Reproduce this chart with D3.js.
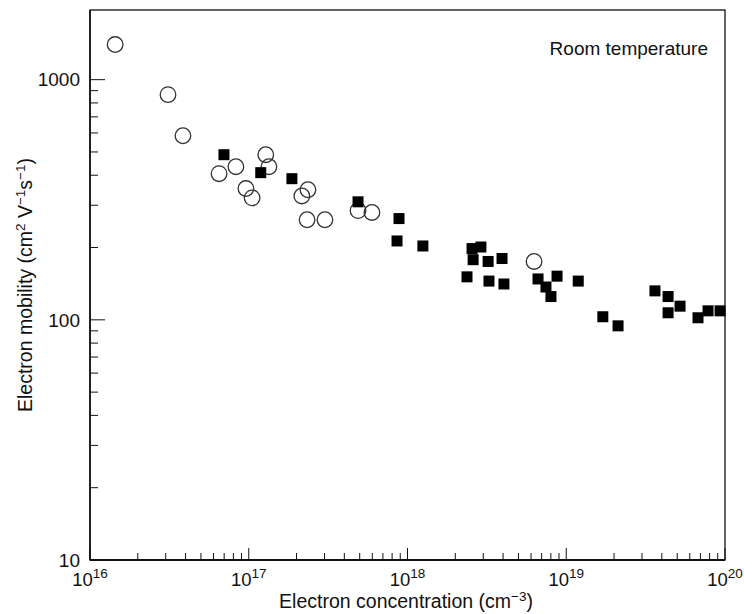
<!DOCTYPE html>
<html><head><meta charset="utf-8">
<script src="https://cdn.jsdelivr.net/npm/d3@7"></script>
<style>
body{margin:0;background:#fff}
svg{display:block}
text{font-family:"Liberation Sans",Arial,Helvetica,sans-serif;fill:#111}
</style>
</head><body>
<svg id="c" width="744" height="614"></svg>
<script>
// Open circles
const circleConc = [1.44e16, 3.1e16, 3.85e16, 6.5e16, 8.3e16, 9.6e16, 1.05e17, 1.28e17, 1.34e17, 2.16e17, 2.36e17, 2.33e17, 3.02e17, 4.88e17, 5.97e17, 6.27e18];
const circleMob  = [1400, 866, 584, 406, 434, 352, 322, 487, 434, 328, 348, 261, 261, 285, 280, 175];
// Filled squares
const squareConc = [6.98e16, 1.19e17, 1.87e17, 4.88e17, 8.84e17, 8.59e17, 1.25e18, 2.55e18, 2.90e18, 2.59e18, 3.22e18, 3.94e18, 2.37e18, 3.26e18, 4.05e18, 6.64e18, 8.75e18, 7.45e18, 8.01e18, 1.19e19, 1.70e19, 2.12e19, 3.62e19, 4.38e19, 5.21e19, 4.38e19, 6.76e19, 7.82e19, 9.31e19];
const squareMob  = [487, 410, 387, 310, 264, 213, 203, 198, 201, 178, 175, 180, 151, 145, 141, 148, 152, 137, 125, 145, 103, 94.4, 132, 125, 114, 107, 102, 109, 109];
const xTickExps = [16, 17, 18, 19, 20];
const yTickValues = [10, 100, 1000];
const annotation = "Room temperature";

const svg = d3.select("#c");
const L = 90, R = 725, T = 10, B = 560;
const x = d3.scaleLog().domain([1e16, 1e20]).range([L, R]);
const y = d3.scaleLog().domain([10, 1950]).range([B, T]);

const xMinor = [], yMinor = [];
for (let e = 16; e < 20; e++) for (let m = 2; m <= 9; m++) xMinor.push(m * Math.pow(10, e));
for (let e = 1; e <= 3; e++) for (let m = 2; m <= 9; m++) { const v = m * Math.pow(10, e); if (v <= 1950) yMinor.push(v); }

const g = svg.append("g");
g.selectAll(".xmin").data(xMinor).join("line")
  .attr("x1", d => x(d)).attr("x2", d => x(d)).attr("y1", B).attr("y2", B - 7)
  .attr("stroke", "#111").attr("stroke-width", 1);
g.selectAll(".xmaj").data(xTickExps.map(e => Math.pow(10, e))).join("line")
  .attr("x1", d => x(d)).attr("x2", d => x(d)).attr("y1", B).attr("y2", B - 12)
  .attr("stroke", "#111").attr("stroke-width", 1);
g.selectAll(".ymin").data(yMinor).join("line")
  .attr("x1", L).attr("x2", L + 8).attr("y1", d => y(d)).attr("y2", d => y(d))
  .attr("stroke", "#111").attr("stroke-width", 1);
g.selectAll(".ymaj").data(yTickValues).join("line")
  .attr("x1", L).attr("x2", L + 15).attr("y1", d => y(d)).attr("y2", d => y(d))
  .attr("stroke", "#111").attr("stroke-width", 1);

svg.append("rect").attr("x", L).attr("y", T).attr("width", R - L).attr("height", B - T)
  .attr("fill", "none").attr("stroke", "#111").attr("stroke-width", 1.3);
svg.append("line").attr("x1", L).attr("x2", R).attr("y1", B).attr("y2", B).attr("stroke", "#111").attr("stroke-width", 2);
svg.append("line").attr("x1", L).attr("x2", L).attr("y1", T).attr("y2", B).attr("stroke", "#111").attr("stroke-width", 1.6);

// y tick labels
svg.selectAll(".ylab").data(yTickValues).join("text")
  .attr("x", L - 10).attr("y", d => y(d)).attr("dy", "0.36em")
  .attr("text-anchor", "end").attr("font-size", 19).text(d => d);

// x tick labels
const xl = svg.selectAll(".xlab").data(xTickExps).join("text")
  .attr("x", d => x(Math.pow(10, d))).attr("y", 586)
  .attr("text-anchor", "middle").attr("font-size", 18.5);
xl.append("tspan").text("10");
xl.append("tspan").attr("dy", -8).attr("font-size", 13.5).text(d => d);

// axis titles
const xt = svg.append("text").attr("x", 406).attr("y", 608).attr("text-anchor", "middle").attr("font-size", 19.5);
xt.append("tspan").text("Electron concentration (cm");
xt.append("tspan").attr("dy", -7).attr("font-size", 13.5).text("\u22123");
xt.append("tspan").attr("dy", 7).text(")");

const yt = svg.append("text").attr("transform", "translate(32,285) rotate(-90)")
  .attr("text-anchor", "middle").attr("font-size", 19.5);
yt.append("tspan").text("Electron mobility (cm");
yt.append("tspan").attr("dy", -7).attr("font-size", 13.5).text("2");
yt.append("tspan").attr("dy", 7).text(" V");
yt.append("tspan").attr("dy", -7).attr("font-size", 13.5).text("\u22121");
yt.append("tspan").attr("dy", 7).text("s");
yt.append("tspan").attr("dy", -7).attr("font-size", 13.5).text("\u22121");
yt.append("tspan").attr("dy", 7).text(")");

// annotation
svg.append("text").attr("x", 708).attr("y", 55).attr("text-anchor", "end").attr("font-size", 19).text(annotation);

// data
const circles = circleConc.map((c, i) => ({ c, m: circleMob[i] }));
const squares = squareConc.map((c, i) => ({ c, m: squareMob[i] }));
svg.append("g").selectAll("circle").data(circles).join("circle")
  .attr("cx", d => x(d.c)).attr("cy", d => y(d.m)).attr("r", 7.8)
  .attr("fill", "none").attr("stroke", "#333").attr("stroke-width", 1.3);
const s = 11;
svg.append("g").selectAll("rect").data(squares).join("rect")
  .attr("x", d => x(d.c) - s / 2).attr("y", d => y(d.m) - s / 2).attr("width", s).attr("height", s)
  .attr("fill", "#000");
</script>
</body></html>
